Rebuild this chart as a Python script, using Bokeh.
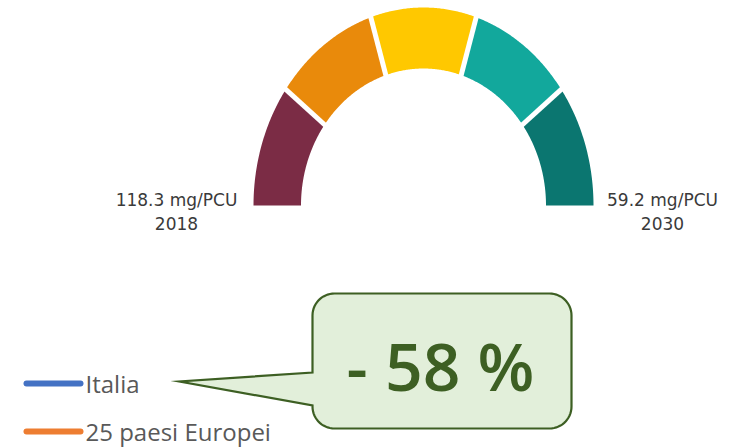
import numpy as np
from bokeh.plotting import figure
from bokeh.core.properties import value
from bokeh.embed import file_html
from bokeh.resources import INLINE

# ---- data ----
segment_shares = [1, 1, 1, 1, 1]
segment_colors = ["#7B2C45", "#E98A0B", "#FFC800", "#12A89C", "#0B7670"]
start_label = ["118.3 mg/PCU", "2018"]
end_label = ["59.2 mg/PCU", "2030"]
callout_text = ["- 58 %"]
legend_labels = ["Italia", "25 paesi Europei"]
legend_colors = ["#4472C4", "#ED7D31"]

W, H = 736, 447
p = figure(width=W, height=H, x_range=(0, W), y_range=(H, 0),
           output_backend="svg", toolbar_location=None, min_border=0)
p.axis.visible = False
p.grid.visible = False
p.outline_line_color = None
p.background_fill_color = "white"
p.border_fill_color = "white"

# ---- gauge ----
cx, cy = 423, 205
rox, roy = 170, 198
rix, riy = 122.5, 137
cum = np.concatenate([[0], np.cumsum(segment_shares)]) / float(sum(segment_shares))
angles = np.pi * (1 - cum)
xs, ys = [], []
for a0, a1 in zip(angles[:-1], angles[1:]):
    t = np.linspace(a0, a1, 80)
    ox = cx + rox * np.cos(t)
    oy = cy - roy * np.sin(t)
    ix = cx + rix * np.cos(t[::-1])
    iy = cy - riy * np.sin(t[::-1])
    xs.append(list(np.concatenate([ox, ix])))
    ys.append(list(np.concatenate([oy, iy])))
p.patches(xs, ys, fill_color=segment_colors, line_color=None)

# separators
inner_b = angles[1:-1]
p.segment(x0=cx + (rix - 3) * np.cos(inner_b), y0=cy - (riy - 3) * np.sin(inner_b),
          x1=cx + (rox + 3) * np.cos(inner_b), y1=cy - (roy + 3) * np.sin(inner_b),
          line_color="white", line_width=5)

lab_font = value("DejaVu Sans")
p.text(x=[176, 176], y=[199, 223], text=start_label, text_align="center",
       text_baseline="middle", text_font=lab_font, text_font_size="17px",
       text_color="#3A3A3A")
p.text(x=[662, 662], y=[199, 223], text=end_label, text_align="center",
       text_baseline="middle", text_font=lab_font, text_font_size="17px",
       text_color="#3A3A3A")

# ---- legend ----
leg_y = [383, 431]
p.segment(x0=[26, 26], y0=leg_y, x1=[80, 80], y1=leg_y, line_color=legend_colors,
          line_width=6, line_cap="round")
p.text(x=[85, 85], y=leg_y, text=legend_labels, text_align="left",
       text_baseline="middle", text_font=value("Open Sans"), text_font_size="24px",
       text_color="#595959")

# ---- callout ----
def callout_path(x0, y0, x1, y1, r, tip, b0, b1, n=16):
    px, py = [], []
    def arc(xc, yc, a_start, a_end):
        t = np.linspace(a_start, a_end, n)
        px.extend(xc + r * np.cos(t)); py.extend(yc + r * np.sin(t))
    arc(x0 + r, y0 + r, np.pi, 1.5 * np.pi)        # top-left
    arc(x1 - r, y0 + r, 1.5 * np.pi, 2 * np.pi)    # top-right
    arc(x1 - r, y1 - r, 0, 0.5 * np.pi)            # bottom-right
    arc(x0 + r, y1 - r, 0.5 * np.pi, np.pi)        # bottom-left
    px.extend([x0, tip[0], x0]); py.extend([b1, tip[1], b0])
    return px, py

cxs, cys = callout_path(312, 293, 571, 428, 22, (179, 381), 372, 405)
p.patch(cxs, cys, fill_color="#E2EFDA", line_color="#3D5F23", line_width=2.2,
        line_join="miter")
p.text(x=[440], y=[364], text=callout_text, text_align="center",
       text_baseline="middle", text_font=value("Open Sans SemiBold"), text_font_size="66px",
       text_color="#3D5F23")

open("out.html", "w").write(file_html(p, INLINE))
